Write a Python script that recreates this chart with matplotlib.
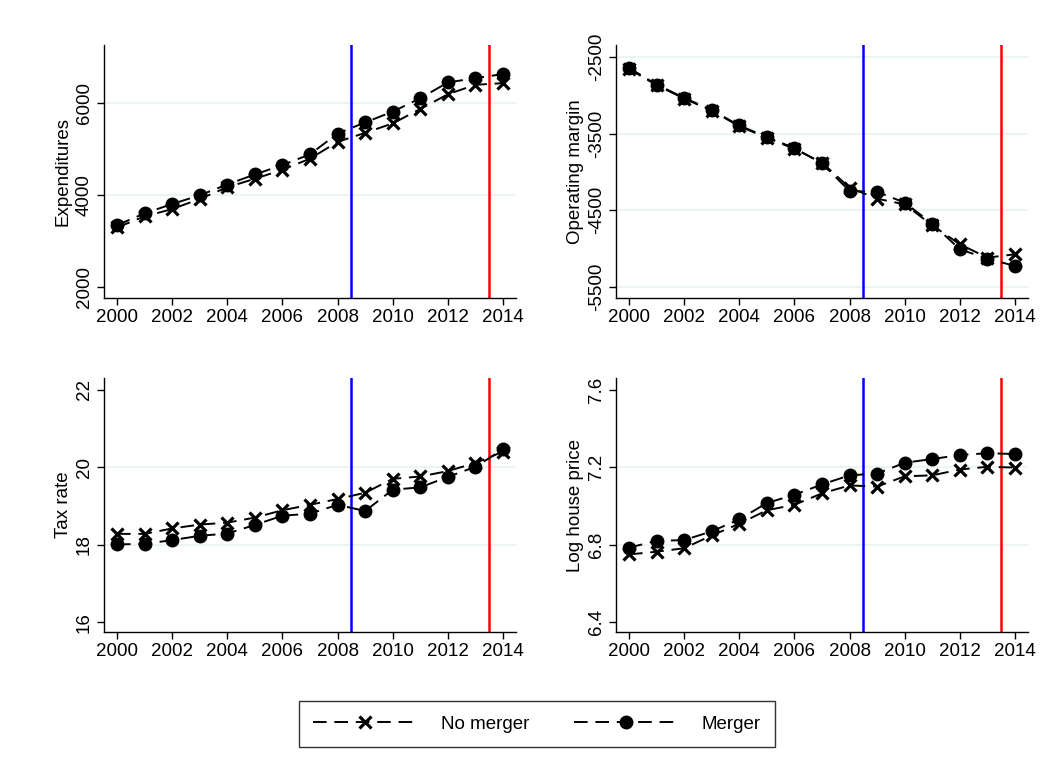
import matplotlib
matplotlib.use("Agg")
import matplotlib.pyplot as plt
from matplotlib.lines import Line2D

plt.rcParams['font.family'] = ['Liberation Sans', 'DejaVu Sans']
plt.rcParams['axes.unicode_minus'] = False

years = list(range(2000, 2015))

exp_merger = [3350, 3606, 3810, 4000, 4234, 4453, 4657, 4890, 5343, 5584, 5818, 6110, 6453, 6547, 6635]
exp_nomerger = [3300, 3540, 3700, 3920, 4175, 4358, 4555, 4796, 5160, 5358, 5562, 5876, 6197, 6402, 6438]

om_merger = [-2639, -2857, -3031, -3192, -3393, -3545, -3689, -3889, -4251, -4260, -4403, -4678, -5013, -5135, -5231]
om_nomerger = [-2652, -2866, -3040, -3200, -3402, -3554, -3698, -3880, -4207, -4351, -4425, -4700, -4948, -5122, -5078]

tax_merger = [18.01, 18.02, 18.12, 18.23, 18.29, 18.51, 18.75, 18.80, 19.03, 18.87, 19.42, 19.48, 19.75, 20.01, 20.46]
tax_nomerger = [18.28, 18.28, 18.42, 18.52, 18.57, 18.70, 18.89, 19.03, 19.18, 19.34, 19.70, 19.76, 19.90, 20.11, 20.40]

hp_merger = [6.785, 6.820, 6.824, 6.869, 6.931, 7.015, 7.058, 7.111, 7.158, 7.167, 7.223, 7.242, 7.263, 7.272, 7.268]
hp_nomerger = [6.750, 6.764, 6.782, 6.848, 6.908, 6.978, 7.006, 7.065, 7.106, 7.100, 7.153, 7.158, 7.188, 7.202, 7.198]

xticks = [2000, 2002, 2004, 2006, 2008, 2010, 2012, 2014]
vline_blue = 2008.5
vline_red = 2013.5

panels = [
    ("Expenditures", exp_nomerger, exp_merger, [2000, 4000, 6000], [4000, 6000], (1767, 7267)),
    ("Operating margin", om_nomerger, om_merger, [-5500, -4500, -3500, -2500], [-5500, -4500, -3500, -2500], (-5650, -2340)),
    ("Tax rate", tax_nomerger, tax_merger, [16, 18, 20, 22], [18, 20], (15.75, 22.3)),
    ("Log house price", hp_nomerger, hp_merger, [6.4, 6.8, 7.2, 7.6], [6.8, 7.2], (6.35, 7.66)),
]

W, H = 1060, 769
fig = plt.figure(figsize=(W / 100, H / 100), dpi=100)

boxes = [
    (104, 45, 516, 298),
    (616, 45, 1028, 298),
    (104, 378, 516, 632),
    (616, 378, 1028, 632),
]

FS = 13.5
dash = (0, (7, 4))
for (label, nm, m, yt, grid, ylim), (l, t, r, b) in zip(panels, boxes):
    ax = fig.add_axes([l / W, 1 - b / H, (r - l) / W, (b - t) / H])
    for g in grid:
        ax.axhline(g, color='#eaf2f3', lw=1.2, zorder=0)
    ax.axvline(vline_blue, color='#0000ff', lw=1.8, zorder=1)
    ax.axvline(vline_red, color='#ff0000', lw=1.8, zorder=1)
    ax.plot(years, nm, color='black', ls=dash, lw=1.4, marker='x', ms=8, mew=2.3, zorder=3)
    ax.plot(years, m, color='black', ls=dash, lw=1.4, marker='o', ms=9, zorder=3)
    ax.set_xlim(1999.53, 2014.47)
    ax.set_ylim(*ylim)
    ax.set_xticks(xticks)
    ax.set_yticks(yt)
    if isinstance(yt[0], float):
        ax.set_yticklabels([f"{v:.1f}" for v in yt])
    for s in ['top', 'right']:
        ax.spines[s].set_visible(False)
    for s in ['left', 'bottom']:
        ax.spines[s].set_linewidth(1.0)
    ax.tick_params(axis='both', direction='out', length=5, width=1, labelsize=FS, pad=3)
    for tl in ax.get_yticklabels():
        tl.set_rotation(90)
        tl.set_va('center')
    ax.set_ylabel(label, fontsize=FS, labelpad=3)

handles = [
    Line2D([], [], color='black', ls=dash, lw=1.4, marker='x', ms=8, mew=2.3),
    Line2D([], [], color='black', ls=dash, lw=1.4, marker='o', ms=9),
]
leg = fig.legend(handles, ['No merger', 'Merger'], loc='center', bbox_to_anchor=(537 / W, 1 - 724 / H),
                 ncol=2, fontsize=FS, frameon=True, fancybox=False, handlelength=5.5,
                 columnspacing=2.4, handletextpad=1.3, borderpad=0.75, edgecolor='black')
leg.get_frame().set_linewidth(1.0)

fig.savefig("out.png", dpi=100, facecolor='white')
